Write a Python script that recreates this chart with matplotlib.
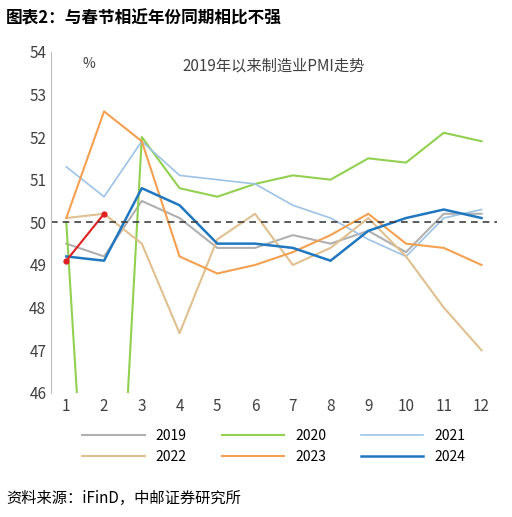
import matplotlib
matplotlib.use("Agg")
import matplotlib.pyplot as plt

plt.rcParams['font.family'] = ['Noto Sans CJK SC', 'DejaVu Sans']

months = list(range(1, 13))
pmi_2019 = [49.5, 49.2, 50.5, 50.1, 49.4, 49.4, 49.7, 49.5, 49.8, 49.3, 50.2, 50.2]
pmi_2020 = [50.0, 35.7, 52.0, 50.8, 50.6, 50.9, 51.1, 51.0, 51.5, 51.4, 52.1, 51.9]
pmi_2021 = [51.3, 50.6, 51.9, 51.1, 51.0, 50.9, 50.4, 50.1, 49.6, 49.2, 50.1, 50.3]
pmi_2022 = [50.1, 50.2, 49.5, 47.4, 49.6, 50.2, 49.0, 49.4, 50.1, 49.2, 48.0, 47.0]
pmi_2023 = [50.1, 52.6, 51.9, 49.2, 48.8, 49.0, 49.3, 49.7, 50.2, 49.5, 49.4, 49.0]
pmi_2024 = [49.2, 49.1, 50.8, 50.4, 49.5, 49.5, 49.4, 49.1, 49.8, 50.1, 50.3, 50.1]
pmi_2025 = [49.1, 50.2]

fig = plt.figure(figsize=(5.12, 5.17), dpi=100)
fig.text(0.012, 0.965, "图表2：与春节相近年份同期相比不强", fontsize=12, fontweight="bold", va="center")
fig.text(0.012, 0.035, "资料来源：iFinD，中邮证券研究所", fontsize=11, va="center")

ax = fig.add_axes([0.1, 0.24, 0.87, 0.66])
l19, = ax.plot(months, pmi_2019, color="#b0b0b0", lw=1.5, label="2019")
l20, = ax.plot(months, pmi_2020, color="#92d050", lw=1.5, label="2020")
l21, = ax.plot(months, pmi_2021, color="#9dc3e6", lw=1.2, label="2021")
l22, = ax.plot(months, pmi_2022, color="#e0c090", lw=1.5, label="2022")
l23, = ax.plot(months, pmi_2023, color="#f4a050", lw=1.5, label="2023")
l24, = ax.plot(months, pmi_2024, color="#1f77c0", lw=1.8, label="2024")
ax.plot(months[:2], pmi_2025, color="#e02020", lw=1.5, marker="o", ms=3.5)
ax.axhline(50, color="#404040", lw=1.2, ls=(0, (4, 3)))

ax.set_ylim(46, 54)
ax.set_xlim(0.6, 12.4)
ax.set_xticks(months)
ax.set_yticks(range(46, 55))
ax.tick_params(labelsize=11, colors="#404040", length=0)
for s in ["top", "right", "bottom"]:
    ax.spines[s].set_visible(False)
ax.spines["left"].set_color("#bfbfbf")
ax.text(0.07, 0.985, "%", transform=ax.transAxes, fontsize=10, color="#404040", va="top")
ax.set_title("2019年以来制造业PMI走势", fontsize=11, color="#404040", y=0.92)

# column-major fill -> reorder so rows read 2019-2021 / 2022-2024
handles = [l19, l22, l20, l23, l21, l24]
ax.legend(handles=handles, labels=[h.get_label() for h in handles],
          loc="upper center", bbox_to_anchor=(0.5, -0.07), ncol=3, frameon=False,
          fontsize=10, handlelength=4.5, columnspacing=2.5)
fig.savefig("out.png", dpi=100)
